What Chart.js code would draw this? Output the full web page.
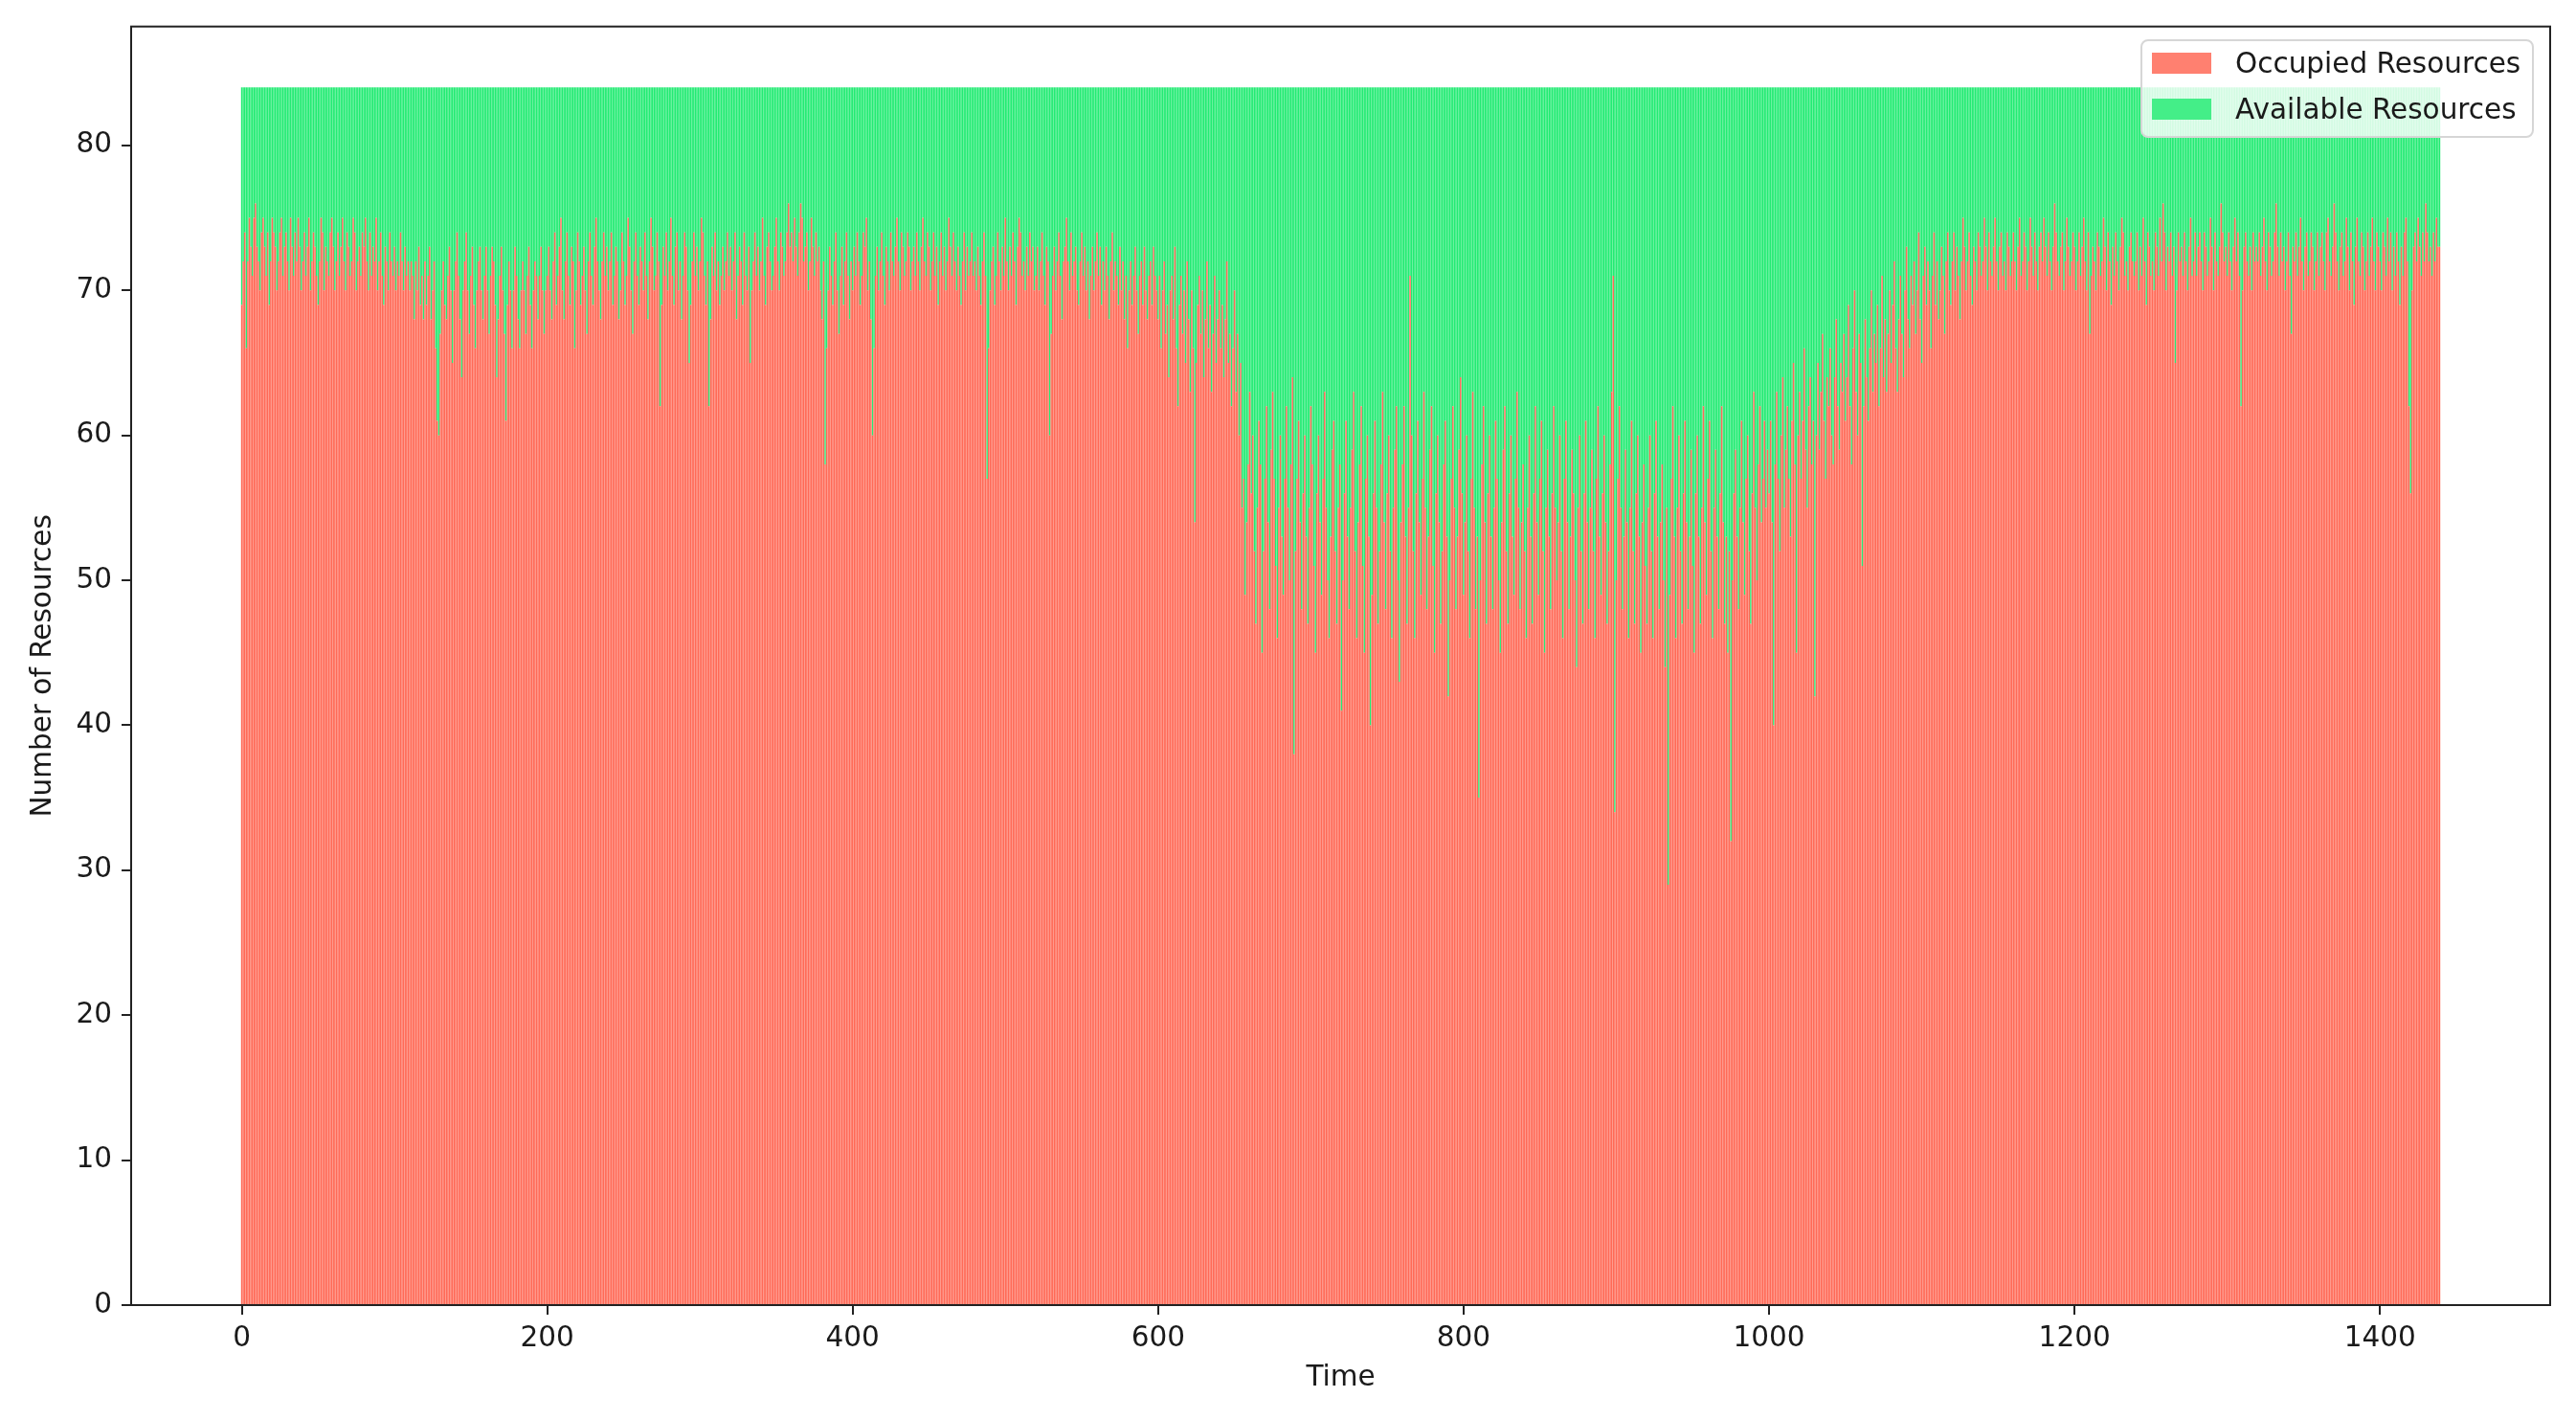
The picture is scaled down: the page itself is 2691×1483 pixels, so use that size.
<!DOCTYPE html>
<html>
<head>
<meta charset="utf-8">
<script src="https://cdn.jsdelivr.net/npm/chart.js@4/dist/chart.umd.min.js"></script>
<style>
  body { margin: 0; background: #fff; }
  #wrap { position: relative; width: 2691px; height: 1483px; }
  #legenda {
    position: absolute; left: 2236px; top: 41px; width: 411px; height: 103px;
    box-sizing: border-box; border: 2px solid #d6d6d6; border-radius: 8px;
    background: rgba(255, 255, 255, 0.8);
    font-family: 'DejaVu Sans', sans-serif; font-size: 29.5px; color: #1a1a1a;
  }
  .item { position: absolute; left: 10px; height: 40px; display: flex; align-items: center; }
  .patch { width: 62px; height: 22px; margin-right: 25px; }
</style>
</head>
<body>
<div id="wrap">
  <canvas id="recursosChart" width="2691" height="1483"></canvas>
  <div id="legenda">
    <div class="item" style="top: 3px"><span class="patch" style="background: #FF8070"></span>Occupied Resources</div>
    <div class="item" style="top: 51px"><span class="patch" style="background: #44EE88"></span>Available Resources</div>
  </div>
</div>
<script>
// Dados (um valor por minuto)

var totalRecursos = 84;

var ocupados = [].concat(
  [69,72,74,66,72,75,73,71,75,76,73,72,70,74,75,73,71,74,69,72,75,74,73,70,72,74,75,71,73,74,72,70,75,73,71,74,72,75,73,70],
  [72,74,71,73,75,70,72,74,73,71,69,72,75,74,70,73,72,71,74,75,73,70,72,74,71,73,75,72,70,74,73,71,72,75,74,70,72,73,71,74],
  [73,75,72,70,74,71,73,72,75,70,72,74,71,69,73,72,70,74,72,71,73,70,72,71,74,72,70,73,71,72,70,72,71,68,72,70,73,69,71,68],
  [72,69,71,73,68,70,72,66,61,60,67,70,72,69,68,71,73,70,65,70,72,74,71,68,64,70,72,74,70,67,71,73,69,66,70,72,73,70,68,71],
  [73,70,67,71,73,72,69,64,68,71,73,70,67,61,69,72,70,66,70,73,71,68,66,70,72,70,67,71,73,69,66,70,72,71,68,71,73,70,67,70],
  [71,73,70,68,72,74,69,71,73,75,70,68,72,74,71,69,73,72,66,70,74,72,69,71,73,70,67,72,74,71,69,73,75,72,70,68,72,74,71,73],
  [70,72,74,69,71,73,72,68,70,74,72,69,71,75,73,70,67,72,74,71,69,73,72,70,74,71,68,72,75,73,70,71,74,72,62,69,73,71,74,70],
  [72,75,71,69,73,74,70,72,68,71,74,73,70,65,69,72,74,71,73,70,72,75,74,71,69,72,62,68,73,71,74,70,72,69,71,73,70,72,74,71],
  [73,70,72,74,68,71,73,72,69,74,71,70,73,65,70,72,74,71,73,70,72,75,71,69,73,74,72,70,71,73,75,72,70,74,73,71,72,74,76,73],
  [74,72,75,73,71,74,76,75,72,73,74,70,72,75,73,71,74,72,73,70,68,72,58,66,70,73,71,69,72,74,70,67,71,73,69,72,74,71,68,72],
  [70,73,71,74,72,69,71,74,73,75,70,72,68,60,66,71,73,70,72,74,71,69,73,72,70,74,72,71,73,75,72,70,74,73,71,72,74,73,70,72],
  [73,71,74,72,70,73,75,72,71,74,73,70,72,74,71,73,69,72,74,71,73,70,72,75,73,71,74,72,70,73,71,69,72,74,70,73,71,72,74,71],
  [72,70,73,71,69,72,74,71,57,66,70,72,73,69,71,74,72,70,73,71,75,72,70,73,71,74,72,69,73,75,74,71,72,70,73,71,74,72,73,70],
  [71,73,70,72,74,71,69,73,72,60,67,71,73,70,72,74,71,68,72,73,75,72,70,74,71,72,73,70,69,72,74,71,73,70,72,68,71,73,70,72],
  [74,71,73,69,72,70,73,71,68,72,74,70,72,71,69,73,70,72,68,71,66,70,72,69,71,73,70,67,71,72,69,73,70,68,71,72,69,73,71,70],
  [68,71,66,70,72,67,69,64,70,71,68,73,66,62,69,71,67,70,65,72,68,63,70,66,54,65,69,71,67,70,64,68,72,66,69,63,67,71,65,68],
  [70,66,69,64,68,72,65,67,62,66,70,63,67,60,65,55,57,49,54,58,63,56,60,52,47,55,61,58,45,52,57,62,54,48,59,63,57,51,46,55],
  [60,53,49,57,62,55,50,58,64,38,52,57,61,54,48,56,60,53,47,55,62,58,51,45,56,60,54,49,57,63,55,50,46,53,59,61,52,47,55,58],
  [41,50,56,61,53,48,55,59,63,52,46,54,58,62,51,45,57,60,53,40,49,56,61,55,47,52,58,63,54,48,56,60,52,46,55,59,62,50,43,54],
  [58,62,53,47,55,71,60,52,46,56,61,54,49,57,63,55,48,53,59,62,51,45,56,60,54,47,52,58,61,53,42,50,57,62,55,48,53,59,64,56],
  [49,54,60,52,46,57,63,55,48,53,35,50,58,62,54,47,56,60,53,48,55,61,57,50,45,54,59,62,52,47,56,60,53,49,57,63,55,48,54,58],
  [52,46,55,60,53,47,56,62,54,49,57,61,52,45,55,59,53,48,56,62,55,50,54,60,52,46,57,61,54,48,53,59,56,50,44,55,60,52,47,56],
  [61,54,48,55,59,52,46,57,62,53,49,56,60,54,47,52,58,63,71,34,50,57,62,55,48,53,59,54,46,55,61,52,47,56,60,53,45,54,58,51],
  [47,55,60,52,46,56,61,53,48,54,58,50,44,55,29,49,57,62,53,46,55,60,52,47,56,61,54,48,53,59,51,45,56,60,53,47,55,62,54,49],
  [57,61,52,46,55,59,53,48,56,62,54,47,53,45,52,32,50,56,59,53,48,55,61,54,49,57,60,52,47,56,63,55,50,58,62,54,57,61,55,59],
  [56,61,54,40,58,63,57,52,60,64,55,59,62,57,53,61,65,58,45,60,63,57,61,66,59,55,62,64,58,61,42,60,65,59,63,67,61,57,64,62],
  [66,60,58,64,68,62,59,65,63,67,61,64,69,62,58,66,70,63,60,67,65,51,62,68,64,61,66,70,63,67,65,69,62,66,71,64,68,63,67,70],
  [65,69,72,66,63,68,71,67,64,70,73,68,66,71,69,72,67,70,74,68,65,71,73,69,72,70,66,71,74,69,72,68,70,73,71,67,72,74,70,69],
  [72,74,70,73,71,68,72,75,73,70,72,74,71,69,73,72,70,74,73,71,72,75,73,70,74,72,71,73,75,72,70,73,74,71,72,70,74,73,71,72],
  [74,72,70,73,75,71,72,74,73,70,72,75,73,71,74,72,70,73,74,72,75,73,71,74,72,70,73,76,74,72,71,73,74,70,72,75,73,71,72,74],
  [73,70,72,74,71,73,75,72,70,74,67,71,73,72,70,74,73,71,72,75,73,70,74,72,69,73,71,74,72,70,73,75,74,71,72,70,73,74,72,71],
  [72,74,70,73,71,75,72,69,74,73,71,72,70,74,73,71,75,72,76,74,70,73,72,74,71,73,65,70,74,72,73,71,74,72,70,73,75,71,72,74],
  [71,73,74,72,70,74,73,71,72,75,73,70,74,72,71,73,76,74,72,73,71,74,72,70,73,75,72,74,71,62,70,73,74,72,71,73,70,74,72,73],
  [72,74,71,73,75,72,70,74,73,71,72,74,76,73,71,74,72,73,70,72,74,71,67,73,72,74,71,73,75,72,70,73,74,71,72,74,73,70,72,74],
  [71,73,74,72,70,74,75,72,71,73,76,74,72,70,73,74,71,72,75,73,70,74,72,69,73,75,72,71,74,73,70,72,74,71,73,75,72,70,74,73],
  [72,70,74,73,71,75,72,74,70,73,71,74,72,69,73,71,74,75,72,62,56,70,73,74,72,75,73,71,74,72,76,74,72,73,71,74,72,75,73,73]
);

// o restante da capacidade em cada minuto
var disponiveis = ocupados.map(function (v) { return totalRecursos - v; });

// eixo do tempo: um minuto por barra
var tempo = ocupados.map(function (v, i) { return i; });

var ticksY = [0, 10, 20, 30, 40, 50, 60, 70, 80];
var ticksX = [0, 200, 400, 600, 800, 1000, 1200, 1400];

// Gráfico

var fonte = { family: 'DejaVu Sans, sans-serif', size: 29.5 };
var corTexto = '#1a1a1a';

// moldura em volta da área do gráfico (como no matplotlib)
var moldura = {
  id: 'moldura',
  afterDatasetsDraw: function (chart) {
    var a = chart.chartArea;
    var ctx = chart.ctx;
    ctx.save();
    ctx.strokeStyle = '#222';
    ctx.lineWidth = 2;
    ctx.strokeRect(a.left, a.top, a.right - a.left, a.bottom - a.top);
    ctx.restore();
  }
};

var dataRecursos = {
  labels: tempo,
  datasets: [{
    label: 'Occupied Resources',
    data: ocupados,
    backgroundColor: '#FF6A57',
    borderWidth: 0,
    barPercentage: 0.9,
    categoryPercentage: 1.0,
  }, {
    label: 'Available Resources',
    data: disponiveis,
    backgroundColor: '#23EB73',
    borderWidth: 0,
    barPercentage: 0.9,
    categoryPercentage: 1.0,
  }]
};

function rotuloSimples(valor) {
  return String(valor);
}

var options = {
  responsive: false,
  devicePixelRatio: 1,
  animation: false,
  layout: {
    padding: { top: 24, right: 27, left: 0, bottom: 0 }
  },
  plugins: {
    legend: { display: false },
    tooltip: { enabled: false },
  },
  scales: {
    x: {
      type: 'linear',
      stacked: true,
      offset: false,
      min: -72.4,
      max: 1511.4,
      afterFit: function (scale) { scale.height = 120; },
      afterBuildTicks: function (scale) {
        scale.ticks = ticksX.map(function (v) { return { value: v }; });
      },
      border: { display: false },
      grid: {
        offset: false,
        drawOnChartArea: false,
        drawTicks: true,
        tickLength: 10,
        color: '#222',
        lineWidth: 2,
      },
      ticks: {
        color: corTexto,
        font: fonte,
        padding: 8,
        maxRotation: 0,
        autoSkip: false,
        callback: rotuloSimples,
      },
      title: {
        display: true,
        text: 'Time',
        color: corTexto,
        font: fonte,
        padding: { top: 0, bottom: 26 },
      },
    },
    y: {
      stacked: true,
      min: 0,
      max: 88.2,
      afterFit: function (scale) { scale.width = 137; },
      afterBuildTicks: function (scale) {
        scale.ticks = ticksY.map(function (v) { return { value: v }; });
      },
      border: { display: false },
      grid: {
        drawOnChartArea: false,
        drawTicks: true,
        tickLength: 10,
        color: '#222',
        lineWidth: 2,
      },
      ticks: {
        color: corTexto,
        font: fonte,
        padding: 10,
        callback: rotuloSimples,
      },
      title: {
        display: true,
        text: 'Number of Resources',
        color: corTexto,
        font: fonte,
        padding: { top: 28, bottom: 0 },
      },
    },
  }
};

var ctxRecursos = document.getElementById('recursosChart').getContext('2d');

var myChartRecursos = new Chart(ctxRecursos, {
  type: 'bar',
  data: dataRecursos,
  options: options,
  plugins: [moldura]
});
</script>
</body>
</html>
